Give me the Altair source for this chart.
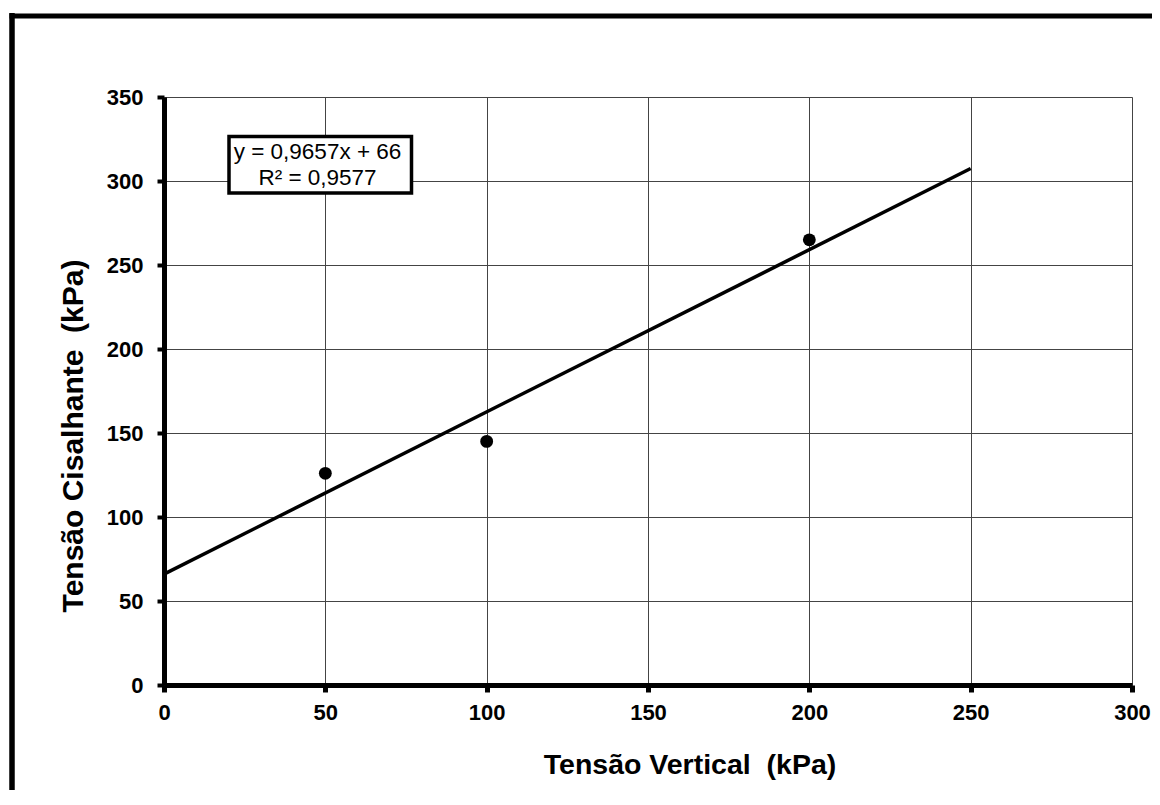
import altair as alt
import pandas as pd

# ---- data ----
vertical_kpa = [50, 100, 200]
shear_kpa = [126, 145, 265]
x_ticks = [0, 50, 100, 150, 200, 250, 300]
y_ticks = [0, 50, 100, 150, 200, 250, 300, 350]
trend_extent = [0, 250]
equation_text = "y = 0,9657x + 66\nR² = 0,9577"
x_title = "Tensão Vertical\u00a0\u00a0(kPa)"
y_title = "Tensão Cisalhante\u00a0\u00a0(kPa)"

df = pd.DataFrame({"v": vertical_kpa, "s": shear_kpa})
one = pd.DataFrame({"k": [0]})

FONT = "Liberation Sans"
W, H = 968, 588

xscale = alt.Scale(domain=[0, 300], nice=False, zero=False)
yscale = alt.Scale(domain=[0, 350], nice=False, zero=False)

xaxis = alt.Axis(
    values=x_ticks, title=x_title, grid=True, gridColor="#444", gridWidth=1,
    domainColor="black", domainWidth=5, tickColor="black", tickWidth=5, tickSize=7,
    labelFont=FONT, labelFontSize=22, labelFontWeight="bold", labelColor="black",
    labelPadding=10, labelFlush=False,
    titleFont=FONT, titleFontSize=28.5, titleFontWeight="bold", titleColor="black",
    titleX=525.5, titleY=88, titleBaseline="alphabetic", titleAlign="center",
)
yaxis = alt.Axis(
    values=y_ticks, title=y_title, grid=True, gridColor="#444", gridWidth=1,
    domainColor="black", domainWidth=5, tickColor="black", tickWidth=4, tickSize=7,
    labelFont=FONT, labelFontSize=22, labelFontWeight="bold", labelColor="black",
    labelPadding=14, labelFlush=False,
    titleFont=FONT, titleFontSize=30, titleFontWeight="bold", titleColor="black",
    titleX=-82, titleY=338.5, titleBaseline="alphabetic", titleAngle=270, titleAlign="center",
)

base = alt.Chart(df)

points = base.mark_circle(color="black", opacity=1, size=165).encode(
    x=alt.X("v:Q", scale=xscale, axis=xaxis),
    y=alt.Y("s:Q", scale=yscale, axis=yaxis),
)

trend = base.transform_regression("v", "s", extent=trend_extent).mark_line(
    color="black", strokeWidth=3.5
).encode(
    x=alt.X("v:Q", scale=xscale),
    y=alt.Y("s:Q", scale=yscale),
)

box = alt.Chart(one).mark_rect(fill="white", stroke="black", strokeWidth=3.5).encode(
    x=alt.value(65), x2=alt.value(247.5), y=alt.value(39.5), y2=alt.value(96)
)
eq = alt.Chart(one).mark_text(
    font=FONT, fontSize=22.5, color="black", lineBreak="\n", lineHeight=26,
    align="center", baseline="middle"
).encode(x=alt.value(153.5), y=alt.value(55), text=alt.value(equation_text))

frame_left = alt.Chart(one).mark_rule(color="black", strokeWidth=5.5).encode(
    x=alt.value(-152), y=alt.value(-84), y2=alt.value(H + 200)
)
frame_top = alt.Chart(one).mark_rule(color="black", strokeWidth=5).encode(
    x=alt.value(-154.5), x2=alt.value(W + 200), y=alt.value(-81)
)

chart = alt.layer(frame_left, frame_top, trend, points, box, eq).properties(
    width=W, height=H,
    autosize=alt.AutoSizeParams(type="none"),
    padding={"left": 156, "top": 89, "right": 20, "bottom": 105},
).configure_view(stroke="#888", strokeWidth=2).configure(background="white")

chart.save("out.html", embed_options={"renderer": "svg", "actions": False})
